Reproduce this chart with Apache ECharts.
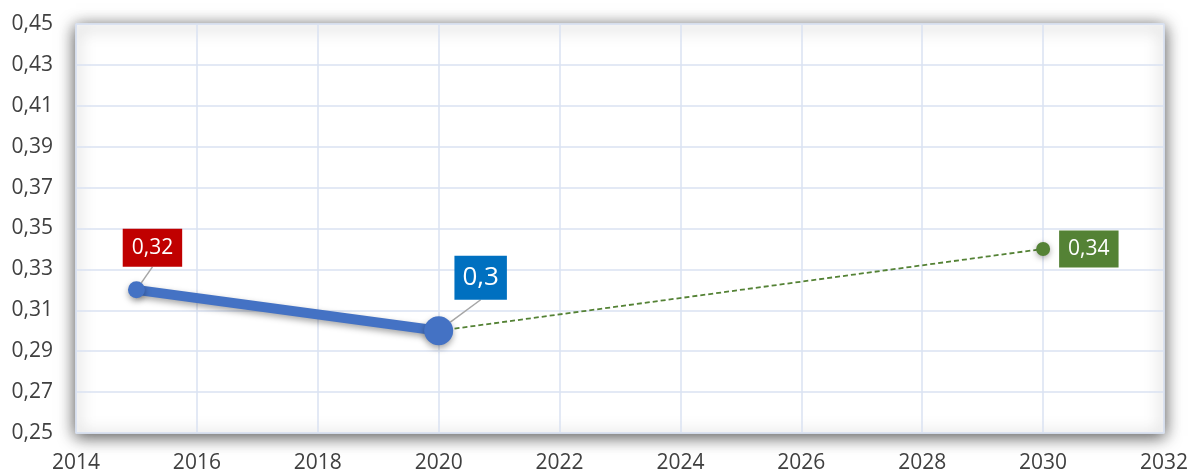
<!DOCTYPE html>
<html><head><meta charset="utf-8">
<script src="https://cdn.jsdelivr.net/npm/echarts@6/dist/echarts.min.js"></script>
<style>html,body{margin:0;padding:0;background:#fff}#c{width:1190px;height:473px}</style>
</head><body><div id="c"></div>
<script>
const actualYears = [2015, 2020];
const actualValues = [0.32, 0.30];
const targetYears = [2020, 2030];
const targetValues = [0.30, 0.34];
const xTicks = [2014, 2032, 2];
const yTicks = [0.25, 0.45, 0.02];

const FONT = '"Open Sans", "Noto Sans", sans-serif';
const fmt = v => String(v).replace('.', ',');
const actualLabelShift = [{ dx: 16, dy: -42 }, { dx: 42, dy: -53 }];

const chart = echarts.init(document.getElementById('c'));
chart.setOption({
  animation: false,
  grid: {
    left: 76, right: 26, top: 24, bottom: 40,
    outerBoundsMode: 'none', containLabel: false,
    show: true, backgroundColor: '#ffffff', borderColor: '#D6DEEC', borderWidth: 1.5,
    shadowBlur: 16, shadowColor: 'rgba(0,0,0,0.7)', shadowOffsetX: 0, shadowOffsetY: 3
  },
  xAxis: {
    type: 'value', min: xTicks[0], max: xTicks[1], interval: xTicks[2],
    axisLine: { show: false }, axisTick: { show: false },
    splitLine: { show: true, lineStyle: { color: '#DAE2F2', width: 1.5 } },
    axisLabel: { color: '#404040', fontFamily: FONT, fontSize: 21, margin: 20, formatter: v => String(v) }
  },
  yAxis: {
    type: 'value', min: yTicks[0], max: yTicks[1], interval: yTicks[2],
    axisLine: { show: false }, axisTick: { show: false },
    splitLine: { show: true, lineStyle: { color: '#DAE2F2', width: 1.5 } },
    axisLabel: { color: '#404040', fontFamily: FONT, fontSize: 21, margin: 23,
      formatter: v => v.toFixed(2).replace('.', ',') }
  },
  series: [
    {
      type: 'line', z: 2,
      data: targetYears.map((y, i) => ({
        value: [y, targetValues[i]],
        symbolSize: i === 0 ? 0 : 14,
        label: i === 0 ? { show: false } : {
          show: true, position: 'right', distance: 9,
          formatter: p => fmt(p.value[1]),
          color: '#fff', backgroundColor: '#548235', fontFamily: FONT, fontSize: 21, lineHeight: 25,
          padding: [6, 9, 6, 9]
        }
      })),
      symbol: 'circle',
      lineStyle: { color: '#548235', width: 1.8, type: [5, 3] },
      itemStyle: { color: '#548235', shadowBlur: 6, shadowColor: 'rgba(0,0,0,0.35)', shadowOffsetY: 2 }
    },
    {
      type: 'line', z: 3,
      data: actualYears.map((y, i) => ({
        value: [y, actualValues[i]],
        symbolSize: i === 0 ? 17 : 29,
        label: {
          show: true, position: 'inside',
          formatter: p => fmt(p.value[1]),
          color: '#fff',
          backgroundColor: i === 0 ? '#C00000' : '#0070C0',
          fontFamily: FONT, fontSize: i === 0 ? 21 : 26, lineHeight: i === 0 ? 25 : 30,
          padding: i === 0 ? [6, 9, 7, 9] : [7, 8, 7, 8]
        }
      })),
      labelLayout: p => actualLabelShift[p.dataIndex],
      labelLine: { show: true, lineStyle: { color: '#A6A6A6', width: 1.5 } },
      symbol: 'circle',
      lineStyle: { color: '#4472C4', width: 10, shadowBlur: 6, shadowColor: 'rgba(0,0,0,0.35)', shadowOffsetY: 3 },
      itemStyle: { color: '#4472C4', shadowBlur: 6, shadowColor: 'rgba(0,0,0,0.35)', shadowOffsetY: 3 }
    }
  ]
});
</script></body></html>
